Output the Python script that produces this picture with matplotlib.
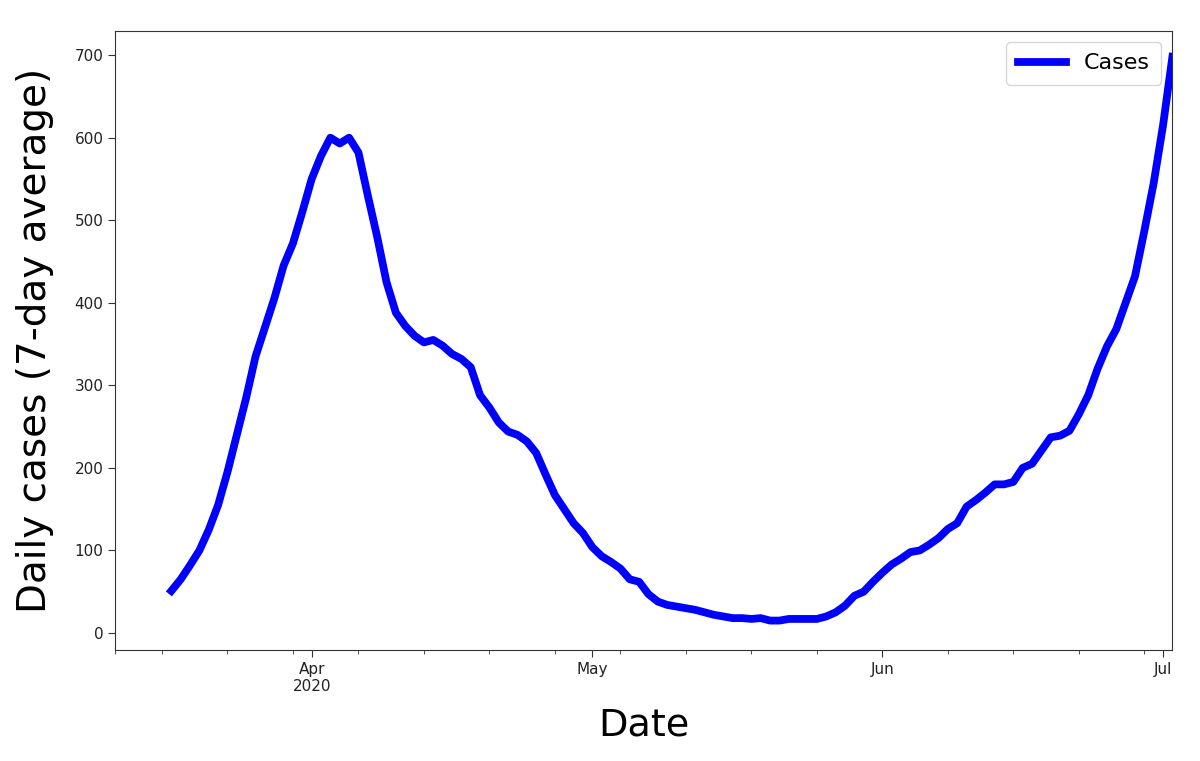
import matplotlib
matplotlib.use("Agg")
import matplotlib.pyplot as plt
import matplotlib.dates as mdates
import numpy as np
import pandas as pd

# First date of the index (7-day average is undefined for the first 6 days)
index_start = "2020-03-11"
series_start = "2020-03-17"

cases = [
    51, 65, 82, 100, 125, 155, 195, 240, 285, 335, 370, 405, 445, 472, 510,      # Mar 17-31
    550, 578, 600, 593, 600, 582, 530, 480, 425, 388, 372, 360, 352, 355, 348,   # Apr 1-15
    338, 332, 322, 288, 273, 255, 244, 240, 232, 218, 192, 167, 150, 133, 121,   # Apr 16-30
    104, 93, 86, 78, 65, 62, 47, 38, 34, 32, 30, 28, 25, 22, 20, 18,             # May 1-16
    18, 17, 18, 15, 15, 17, 17, 17, 17, 20, 25, 33, 45, 50, 62,                  # May 17-31
    73, 83, 90, 98, 100, 107, 115, 126, 133, 153, 161, 170, 180, 180, 183,       # Jun 1-15
    200, 205, 221, 237, 239, 245, 265, 288, 320, 347, 368, 400, 432, 487, 545,   # Jun 16-30
    615, 698,                                                                    # Jul 1-2
]

dates = pd.date_range(series_start, periods=len(cases), freq="D")
full_index = pd.date_range(index_start, dates[-1], freq="D")

fig = plt.figure(figsize=(12, 7.61), dpi=100)
ax = fig.add_axes([0.096, 0.146, 0.881, 0.813])

ax.plot(dates, cases, color="#0000ff", linewidth=5.6, label="Cases",
        solid_capstyle="projecting")

ax.set_xlim(full_index[0], full_index[-1])
ax.set_ylim(-20.5, 729)

# Major ticks at month starts, minor weekly (Mondays)
ax.xaxis.set_major_locator(mdates.MonthLocator())
minor = [d for d in full_index if d.weekday() == 0] + [full_index[0]]
ax.xaxis.set_minor_locator(matplotlib.ticker.FixedLocator(mdates.date2num(minor)))

def fmt(x, pos=None):
    d = mdates.num2date(x)
    if d.month == 4:
        return d.strftime("%b") + "\n" + d.strftime("%Y")
    return d.strftime("%b")

ax.xaxis.set_major_formatter(matplotlib.ticker.FuncFormatter(fmt))
ax.xaxis.set_minor_formatter(matplotlib.ticker.NullFormatter())

ax.set_yticks(np.arange(0, 701, 100))
ax.tick_params(axis="both", which="major", labelsize=11, length=5, color="#333333", labelcolor="#222222")
ax.tick_params(axis="x", which="minor", length=3, color="#333333")

for s in ax.spines.values():
    s.set_color("#333333")

ax.set_xlabel("Date", fontsize=27.5, labelpad=10)
ax.set_ylabel("Daily cases (7-day average)", fontsize=28, labelpad=15)

ax.legend(loc="upper right", fontsize=16, handlelength=2.2, borderpad=0.5)

fig.savefig("out.png", dpi=100)
